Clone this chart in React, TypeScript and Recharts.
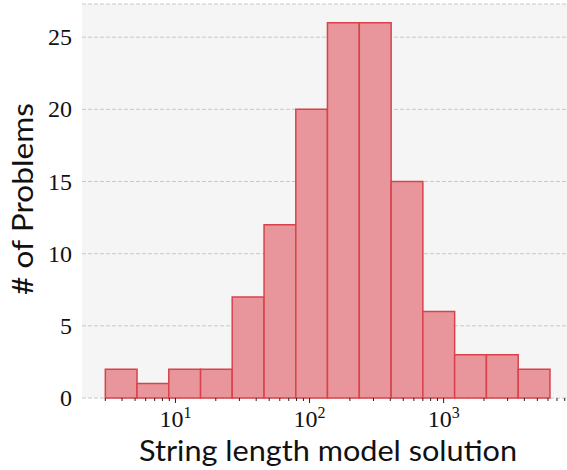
import { ComposedChart, XAxis, YAxis, CartesianGrid, ReferenceArea, Label, Line } from "recharts";

// histogram bin edges (log-spaced) and counts per bin
const binEdges = [3, 5.17, 8.92, 15.4, 26.5, 45.8, 79, 136, 235, 406, 700, 1208, 2085, 3598, 6210];
const counts = [2, 1, 2, 2, 7, 12, 20, 26, 26, 15, 6, 3, 3, 2];

const yTicks = [0, 5, 10, 15, 20, 25];
const majorTicks = [10, 100, 1000];
const minorTicks = [3, 4, 5, 6, 7, 8, 9, 20, 30, 40, 50, 60, 70, 80, 90, 200, 300, 400, 500, 600, 700, 800, 900, 2000, 3000, 4000, 5000, 6000, 7000, 8000];

const xLabel = "String length model solution";
const yLabel = "# of Problems";

const bins = counts.map((count, i) => ({ lo: binEdges[i], hi: binEdges[i + 1], count }));
const allTicks = [...minorTicks, ...majorTicks].sort((a, b) => a - b);

const FILL = "#e8969b";
const EDGE = "#d8434b";
const SERIF = "Liberation Serif, DejaVu Serif, serif";
const SANS = "Lato, Open Sans, sans-serif";

const LogTick = (props: any) => {
  const { x, y, payload } = props;
  const v = payload.value as number;
  const major = majorTicks.includes(v);
  const exp = Math.round(Math.log10(v));
  return (
    <g>
      <line x1={x} x2={x} y1={y} y2={y + (major ? 5 : 3)} stroke="#222" strokeWidth={1} />
      {major && (
        <text x={x} y={y + 29} textAnchor="middle" style={{ fontFamily: SERIF, fontSize: 24 }} fill="#111">
          10
          <tspan dy={-9} style={{ fontSize: 16 }}>{exp}</tspan>
        </text>
      )}
    </g>
  );
};

const CountTick = (props: any) => {
  const { x, y, payload } = props;
  return (
    <text x={x} y={y + 8} textAnchor="end" style={{ fontFamily: SERIF, fontSize: 24 }} fill="#111">
      {payload.value}
    </text>
  );
};

export default function App() {
  return (
    <div style={{ position: "absolute", left: 0, top: 0, width: 567, height: 470, background: "#fff" }}>
      <ComposedChart width={567} height={470} data={bins} margin={{ top: 4, right: 0, bottom: 0, left: 0 }}>
        <CartesianGrid
          vertical={false}
          fill="#f5f5f5"
          stroke="#c8c8c8"
          strokeDasharray="4 2"
          strokeWidth={1}
        />
        <XAxis
          type="number"
          dataKey="lo"
          scale="log"
          domain={[2.01, 8318]}
          allowDataOverflow
          ticks={allTicks}
          interval={0}
          axisLine={false}
          tickLine={false}
          tickSize={0}
          tickMargin={0}
          height={72}
          tick={<LogTick />}
        >
          <Label
            content={() => (
              <text x={328} y={461} textAnchor="middle" style={{ fontFamily: SANS, fontSize: 29 }} fill="#111" textLength={378} lengthAdjust="spacingAndGlyphs">
                {xLabel}
              </text>
            )}
          />
        </XAxis>
        <YAxis
          type="number"
          dataKey="count"
          domain={[0, 27.3]}
          allowDataOverflow
          ticks={yTicks}
          width={82}
          axisLine={false}
          tickLine={false}
          tickSize={0}
          tickMargin={10}
          tick={<CountTick />}
        >
          <Label
            content={() => (
              <text
                x={33}
                y={199}
                transform="rotate(-90, 33, 199)"
                textAnchor="middle"
                style={{ fontFamily: SANS, fontSize: 29 }}
                fill="#111"
                textLength={192}
                lengthAdjust="spacingAndGlyphs"
              >
                {yLabel}
              </text>
            )}
          />
        </YAxis>
        {/* invisible series so both axes get registered */}
        <Line dataKey="count" stroke="none" dot={false} activeDot={false} isAnimationActive={false} />
        {bins.map((b, i) => (
          <ReferenceArea
            key={i}
            x1={b.lo}
            x2={b.hi}
            y1={0}
            y2={b.count}
            fill={FILL}
            fillOpacity={1}
            stroke={EDGE}
            strokeWidth={1.5}
            ifOverflow="visible"
          />
        ))}
      </ComposedChart>
    </div>
  );
}
